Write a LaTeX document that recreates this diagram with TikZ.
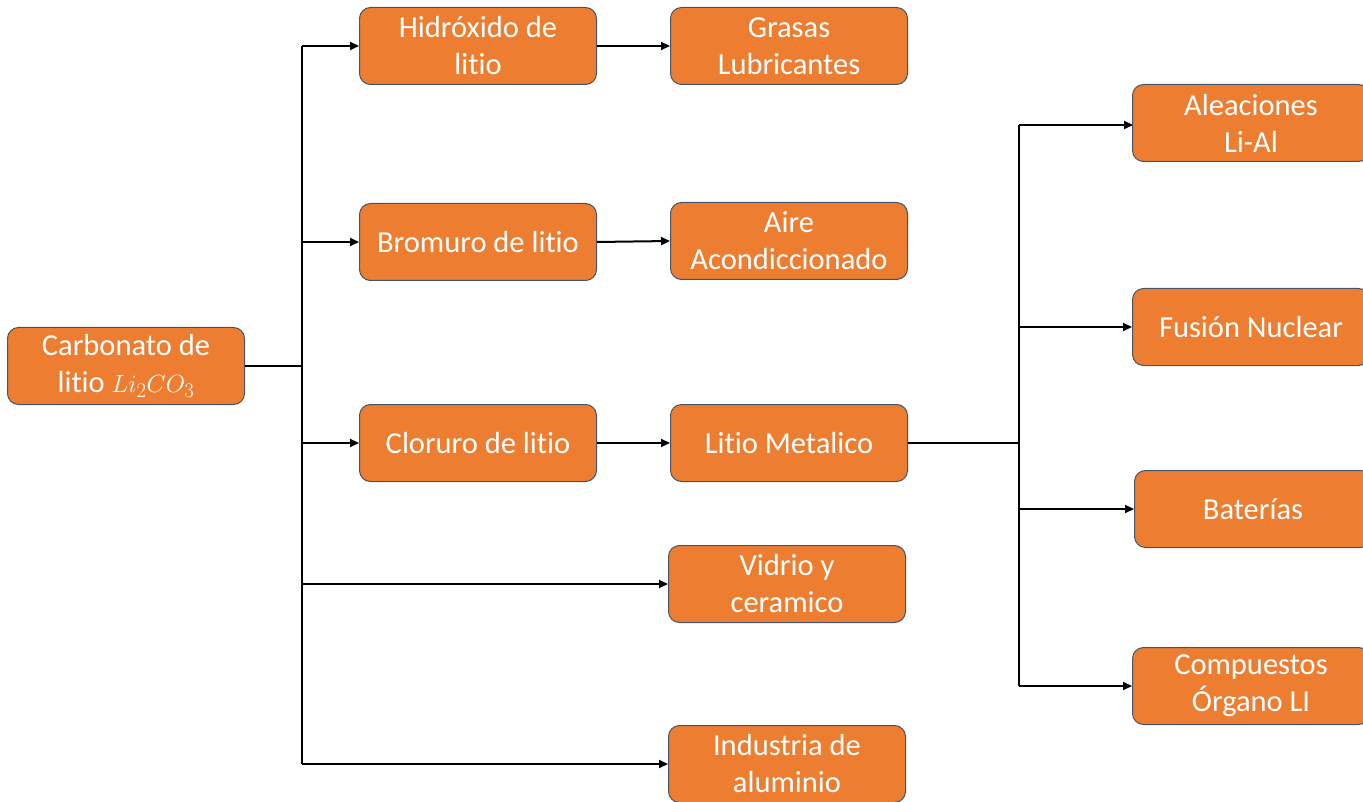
\documentclass[tikz,border=0pt]{standalone}
\usepackage{fontspec}
\setmainfont{Carlito}[Ligatures={NoCommon}]
\usetikzlibrary{arrows.meta}
\definecolor{boxfill}{HTML}{ED7D31}
\definecolor{boxline}{HTML}{44546A}
\begin{document}
\begin{tikzpicture}[x=1pt,y=-1pt,
  box/.style={draw=boxline,line width=1pt,fill=boxfill,rounded corners=11pt,
    minimum width=237pt,minimum height=77pt,inner sep=0pt,
    text=white,align=center,font=\fontsize{30.5}{37}\selectfont},
  link/.style={line width=2pt,draw=black},
  arr/.style={link,-{Triangle[length=9pt,width=8pt]}}]
\useasboundingbox (0,0) rectangle (1363,802);
% first level
\node[box] (carb) at (126,366) {Carbonato de\\litio $Li_2CO_3$};
\node[box] (hidr) at (478,46) {Hidróxido de\\litio};
\node[box] (brom) at (478,242) {Bromuro de litio};
\node[box] (clor) at (478,443) {Cloruro de litio};
% second level
\node[box] (gras) at (789,46) {Grasas\\Lubricantes};
\node[box] (aire) at (789,241) {Aire\\Acondiccionado};
\node[box] (metal) at (789,443) {Litio Metalico};
\node[box] (vidr) at (787,584) {Vidrio y\\ceramico};
\node[box] (alum) at (787,764) {Industria de\\aluminio};
% uses of metallic lithium
\node[box] (alea) at (1251,123) {Aleaciones\\Li-Al};
\node[box] (fusi) at (1251,327) {Fusión Nuclear};
\node[box] (bate) at (1253,509) {Baterías};
\node[box] (orga) at (1251,686) {Compuestos\\Órgano LI};
% trunk from the carbonate
\coordinate (t0) at (302,366);
\draw[link] (carb.east) -- (t0);
\draw[link] (302,46) -- (302,764);
\draw[arr] (302,46) -- (hidr.west);
\draw[arr] (302,242) -- (brom.west);
\draw[arr] (302,443) -- (clor.west);
\draw[arr] (302,584) -- (vidr.west);
\draw[arr] (302,764) -- (alum.west);
% direct links
\draw[arr] (hidr.east) -- (gras.west);
\draw[arr] (brom.east) -- (aire.west);
\draw[arr] (clor.east) -- (metal.west);
% trunk from metallic lithium
\coordinate (t1) at (1019,443);
\draw[link] (metal.east) -- (t1);
\draw[link] (1019,125) -- (1019,686);
\draw[arr] (1019,125) -- (1133,125);
\draw[arr] (1019,327) -- (fusi.west);
\draw[arr] (1019,509) -- (bate.west);
\draw[arr] (1019,686) -- (orga.west);
\end{tikzpicture}
\end{document}
